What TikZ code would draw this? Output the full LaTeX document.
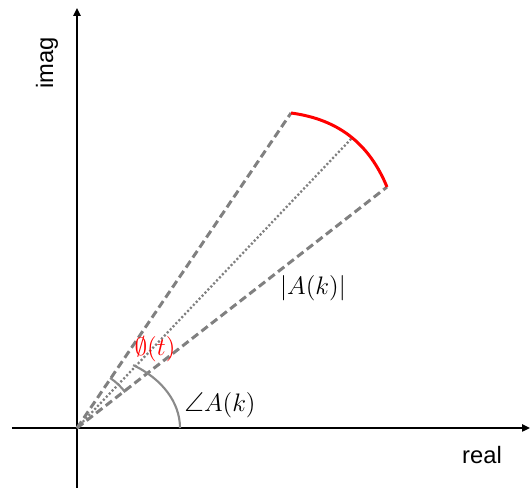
\documentclass[tikz,border=0pt]{standalone}
\usepackage{amsmath, amssymb}
\usepackage{fontspec}
\setmainfont{Liberation Sans}
\usepackage{tikz}
\usetikzlibrary{calc, arrows.meta}
\usepackage{xcolor}
\definecolor{rayGray}{RGB}{128, 128, 128}
\definecolor{arcGray}{RGB}{138, 138, 138}
\definecolor{phaseRed}{RGB}{255, 0, 0}

\begin{document}
\begin{tikzpicture}[>={Triangle[length=4.5pt, width=4pt]},
    axis/.style={line width=1.1pt, ->},
    ray/.style={rayGray, line width=1.7pt, dash pattern=on 4.5pt off 2.4pt},
    midray/.style={rayGray, line width=1.3pt, dash pattern=on 1.2pt off 1.2pt},
    anglearc/.style={arcGray, line width=1.2pt},
    axislabel/.style={font=\fontsize{13.5}{16}\selectfont},
    mathlabel/.style={font=\fontsize{15.5}{18}\selectfont}]
  \useasboundingbox (-1.54, -1.2) rectangle (9.08, 8.56);
  % axes
  \coordinate (O) at (0, 0);
  \coordinate (xl) at (-1.3, 0);
  \coordinate (xr) at (9.06, 0);
  \coordinate (yb) at (0, -1.2);
  \coordinate (yt) at (0, 8.4);
  \draw[axis] (xl) -- (xr);
  \draw[axis] (yb) -- (yt);
  \node[axislabel] (real) at (8.1, -0.54) {real};
  \node[axislabel, rotate=90] (imag) at (-0.6, 7.3) {imag};
  % the spread of the phasor
  \coordinate (up) at (4.28, 6.30);
  \coordinate (lo) at (6.20, 4.82);
  \coordinate (mid) at (5.50, 5.80);
  \draw[ray] (O) -- (up);
  \draw[ray] (O) -- (lo);
  \draw[midray] (O) -- (mid);
  \draw[phaseRed, line width=1.7pt] (up) to[bend left=30] (lo);
  % angles
  \draw[anglearc] (2.06, 0) arc[start angle=0, end angle=57,
    x radius=2.06, y radius=1.5];
  \draw[anglearc] (36.5:1.2) arc[start angle=36.5, end angle=56.5, radius=1.2];
  \node[mathlabel] (mag) at (4.72, 2.8) {$|A(k)|$};
  \node[mathlabel] (ang) at (2.86, 0.46) {$\angle A(k)$};
  \node[mathlabel, text=phaseRed] (phi) at (1.56, 1.58) {$\emptyset(t)$};
\end{tikzpicture}
\end{document}
